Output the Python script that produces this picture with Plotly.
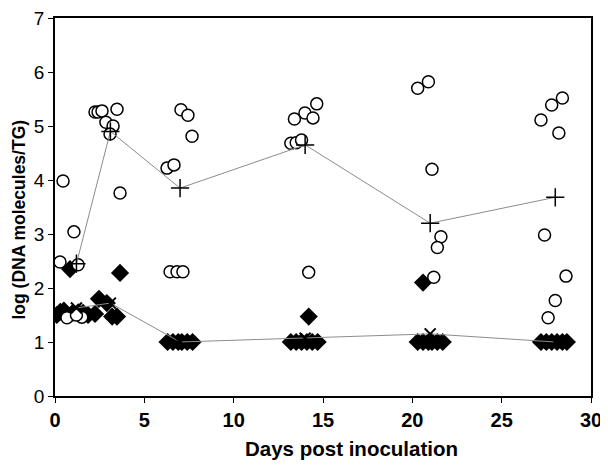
import plotly.graph_objects as go

# Open circles (individual values, upper group)
circ_x = [0.28, 0.45, 1.06, 1.29, 0.67, 1.5, 1.2,
          2.24, 2.41, 2.63, 3.47, 2.85, 3.25, 3.08, 3.64,
          7.05, 7.44, 7.67, 6.27, 6.66, 6.44, 6.83, 7.16,
          14.65, 13.4, 13.99, 14.44, 13.2, 13.5, 13.8, 14.2,
          20.3, 20.9, 21.1, 21.6, 21.4, 21.2,
          28.4, 27.8, 27.2, 28.2, 27.4, 28.6, 28.0, 27.6]
circ_y = [2.48, 3.98, 3.04, 2.43, 1.45, 1.46, 1.5,
          5.26, 5.26, 5.28, 5.31, 5.07, 5.0, 4.85, 3.76,
          5.3, 5.2, 4.81, 4.22, 4.28, 2.3, 2.3, 2.3,
          5.41, 5.13, 5.24, 5.15, 4.68, 4.69, 4.74, 2.29,
          5.7, 5.82, 4.2, 2.95, 2.75, 2.2,
          5.52, 5.39, 5.11, 4.87, 2.98, 2.22, 1.77, 1.45]

# Filled diamonds (individual values, lower group)
diam_x = [0.84, 3.64, 2.46, 2.9, 3.2, 3.47, 2.24,
          0.1, 0.3, 0.5, 1.0, 1.3, 1.57, 1.85,
          6.3, 6.6, 6.9, 7.1, 7.4, 7.7,
          13.2, 13.5, 13.8, 14.1, 14.4, 14.7, 14.2,
          20.3, 20.6, 20.9, 21.1, 21.4, 21.7, 20.6,
          27.2, 27.5, 27.8, 28.1, 28.4, 28.65]
diam_y = [2.35, 2.28, 1.8, 1.72, 1.47, 1.47, 1.52,
          1.5, 1.56, 1.58, 1.54, 1.55, 1.54, 1.5,
          1.0, 1.0, 1.0, 1.0, 1.0, 1.0,
          1.0, 1.0, 1.0, 1.0, 1.0, 1.0, 1.47,
          1.0, 1.0, 1.0, 1.0, 1.0, 1.0, 2.1,
          1.0, 1.0, 1.0, 1.0, 1.0, 1.0]

# Means
upper_mean_x = [1.2, 3.1, 7.0, 14.0, 21.0, 28.0]
upper_mean_y = [2.45, 4.9, 3.85, 4.65, 3.2, 3.68]
lower_mean_x = [1.2, 3.1, 7.0, 14.0, 21.0, 28.0]
lower_mean_y = [1.63, 1.72, 1.0, 1.07, 1.15, 1.0]

x_title = "Days post inoculation"
y_title = "log (DNA molecules/TG)"

FONT = "Liberation Sans, Arial, sans-serif"

fig = go.Figure()
fig.add_trace(go.Scatter(x=diam_x, y=diam_y, mode="markers",
                         marker=dict(symbol="diamond", size=14, color="black",
                                     line=dict(width=0))))
fig.add_trace(go.Scatter(x=circ_x, y=circ_y, mode="markers",
                         marker=dict(symbol="circle", size=12, color="white",
                                     line=dict(width=1.5, color="black"))))
fig.add_trace(go.Scatter(x=upper_mean_x, y=upper_mean_y, mode="lines+markers",
                         line=dict(color="#8c8c8c", width=1),
                         marker=dict(symbol="cross-thin", size=13,
                                     line=dict(width=1.5, color="black"))))
fig.add_trace(go.Scatter(x=lower_mean_x, y=lower_mean_y, mode="lines+markers",
                         line=dict(color="#8c8c8c", width=1),
                         marker=dict(symbol="x-thin", size=11,
                                     line=dict(width=2, color="black"))))

# page body has an 8px default margin, so the figure is offset by (8, 8)
fig.update_layout(
    width=600, height=460,
    margin=dict(l=47, r=17, t=10, b=72, autoexpand=False),
    paper_bgcolor="white", plot_bgcolor="white",
    showlegend=False,
    font=dict(family=FONT, color="black"),
    annotations=[
        dict(text="<b>%s</b>" % x_title, xref="paper", yref="paper",
             x=0.554, y=-0.1376, xanchor="center", yanchor="middle",
             showarrow=False, font=dict(size=20.5, family=FONT)),
        dict(text="<b>%s</b>" % y_title, xref="paper", yref="paper",
             x=-0.068, y=0.4656, xanchor="center", yanchor="middle",
             textangle=-90, showarrow=False, borderpad=0,
             font=dict(size=17.5, family=FONT)),
    ],
)
fig.update_xaxes(range=[0, 30], tickvals=[0, 5, 10, 15, 20, 25, 30],
                 automargin=False, ticklabeloverflow="allow",
                 showgrid=False, zeroline=False, showline=True, mirror=True,
                 linecolor="black", linewidth=1.5, ticks="outside", ticklen=5,
                 tickcolor="black",
                 tickfont=dict(size=20, family=FONT, weight="bold"))
fig.update_yaxes(range=[0, 7], tickvals=[0, 1, 2, 3, 4, 5, 6, 7],
                 automargin=False, ticklabeloverflow="allow",
                 showgrid=False, zeroline=False, showline=True, mirror=True,
                 linecolor="black", linewidth=1.5, ticks="outside", ticklen=5,
                 tickcolor="black",
                 tickfont=dict(size=19, family=FONT))

fig.write_html("out.html")
